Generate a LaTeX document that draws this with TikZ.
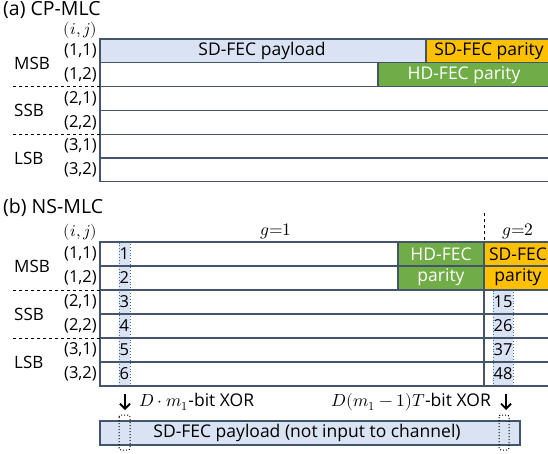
\documentclass[tikz,border=0pt]{standalone}
\usepackage{unicode-math}
\setmainfont{Open Sans}
\setmathfont{Latin Modern Math}
\usetikzlibrary{arrows.meta}
\definecolor{payblue}{HTML}{DAE3F3}
\definecolor{sdorange}{HTML}{FFC000}
\definecolor{hdgreen}{HTML}{70AD47}
\definecolor{rowline}{HTML}{44546A}
\definecolor{colblue}{HTML}{2E75B6}
\tikzset{
  cell/.style={draw=rowline, line width=1.3pt},
  title/.style={anchor=west, inner sep=0pt, font=\fontsize{19.5}{23}\selectfont},
  rowlbl/.style={anchor=east, inner sep=0pt, font=\fontsize{16.5}{19}\selectfont},
  grplbl/.style={anchor=west, inner sep=0pt, font=\fontsize{17}{20}\selectfont},
  blocktxt/.style={inner sep=0pt, font=\fontsize{17.5}{21}\selectfont},
  numtxt/.style={anchor=west, inner sep=0pt, font=\fontsize{16.5}{19}\selectfont},
  xorcol/.style={fill=payblue, draw=colblue, dotted, line width=0.9pt},
  xorbox/.style={draw=black, dotted, line width=1pt, rounded corners=2pt},
  sep/.style={dashed, line width=1pt},
}
\begin{document}
\begin{tikzpicture}[x=1pt, y=-1pt]

  %% ==== (a) CP-MLC ====
  \node[title] (ttlA) at (3,9.5) {(a) CP-MLC};
  \node[rowlbl] (ijA) at (97,30) {$(i,j)$};

  % fills
  \fill[payblue] (100,39) rectangle (426,62.8);
  \fill[sdorange] (426,39) rectangle (552,62.8);
  \fill[hdgreen] (378,62.8) rectangle (552,86.6);
  \node[blocktxt] (payA) at (262,51) {SD-FEC payload};
  \node[blocktxt] (sdA) at (489,51) {SD-FEC parity};
  \node[blocktxt, text=white] (hdA) at (464,75) {HD-FEC parity};

  % rows
  \foreach \r [count=\k from 0] in {(1,1),(1,2),(2,1),(2,2),(3,1),(3,2)} {
    \draw[cell] (100,39+\k*23.8) rectangle (552,62.8+\k*23.8);
    \node[rowlbl] (rA\k) at (97,51+\k*23.8) {\r};
  }
  \draw[cell] (426,39) -- (426,62.8);
  \draw[cell] (378,62.8) -- (378,86.6);

  \node[grplbl] (msbA) at (14,63) {MSB};
  \node[grplbl] (ssbA) at (14,110) {SSB};
  \node[grplbl] (lsbA) at (14,158) {LSB};
  \draw[sep] (13,86.6) -- (100,86.6);
  \draw[sep] (13,134.2) -- (100,134.2);

  %% ==== (b) NS-MLC ====
  \node[title] (ttlB) at (3,208) {(b) NS-MLC};
  \node[rowlbl] (ijB) at (97,232) {$(i,j)$};
  \node[blocktxt] (g1) at (276,231) {$g{=}1$};
  \node[blocktxt] (g2) at (518,231) {$g{=}2$};
  \draw[sep] (484,213) -- (484,242);

  % fills
  \fill[hdgreen] (398,242) rectangle (484,290);
  \fill[sdorange] (484,242) rectangle (552,290);
  \node[blocktxt, text=white, align=center, font=\fontsize{17.5}{21.5}\selectfont] (hdB) at (441,267) {HD-FEC\\parity};
  \node[blocktxt, align=center, font=\fontsize{17.5}{21.5}\selectfont] (sdB) at (518,267) {SD-FEC\\parity};

  % xor columns
  \draw[xorcol] (119,242.5) rectangle (130,386) coordinate (colL);
  \draw[xorcol] (493,290.5) rectangle (513,386) coordinate (colR);

  % rows
  \foreach \r/\a/\b [count=\k from 0] in {(1,1)/1/,(1,2)/2/,(2,1)/3/15,(2,2)/4/26,(3,1)/5/37,(3,2)/6/48} {
    \draw[cell] (100,242+\k*24) rectangle (552,266+\k*24);
    \node[rowlbl] (rB\k) at (97,254+\k*24) {\r};
    \node[numtxt] (nL\k) at (119.5,254+\k*24) {\a};
    \node[numtxt] (nR\k) at (493.5,254+\k*24) {\b};
  }
  \draw[cell] (398,242) -- (398,290);
  \draw[cell] (484,242) -- (484,386);

  \node[grplbl] (msbB) at (14,266) {MSB};
  \node[grplbl] (ssbB) at (14,314) {SSB};
  \node[grplbl] (lsbB) at (14,362) {LSB};
  \draw[sep] (13,290) -- (100,290);
  \draw[sep] (13,338) -- (100,338);

  % xor arrows
  \coordinate (aLs) at (125,394);
  \coordinate (aLe) at (125,410);
  \coordinate (aRs) at (506,394);
  \coordinate (aRe) at (506,410);
  \draw[-{Straight Barb[length=5pt,width=10pt]}, line width=1.8pt] (aLs) -- (aLe);
  \draw[-{Straight Barb[length=5pt,width=10pt]}, line width=1.8pt] (aRs) -- (aRe);
  \node[blocktxt, anchor=west] (xorL) at (139,402) {$D\cdot m_1$-bit XOR};
  \node[blocktxt, anchor=east] (xorR) at (491,402) {$D(m_1-1)T$-bit XOR};

  % SD-FEC payload (b)
  \draw[cell, fill=payblue] (100,421) rectangle (520,445);
  \node[blocktxt] (payB) at (307,433) {SD-FEC payload (not input to channel)};
  \draw[xorbox] (119,415) rectangle (130,450);
  \draw[xorbox] (499,415) rectangle (509,450);

  \pgfresetboundingbox
  \path[use as bounding box] (0,0) rectangle (548,454);
\end{tikzpicture}
\end{document}
